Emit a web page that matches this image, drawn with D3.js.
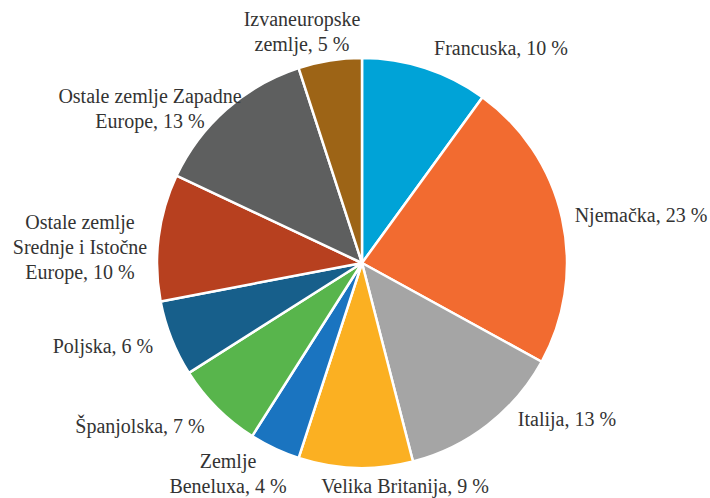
<!DOCTYPE html>
<html>
<head>
<meta charset="utf-8">
<script src="https://cdn.jsdelivr.net/npm/d3@7"></script>
<style>
  html, body { margin: 0; padding: 0; background: #fff; }
  svg { display: block; }
</style>
</head>
<body>
<div id="chart"></div>
<script>
// Categories and shares (%)
var countries = ["Francuska", "Njemačka", "Italija", "Velika Britanija", "Zemlje Beneluxa",
                 "Španjolska", "Poljska", "Ostale zemlje Srednje i Istočne Europe",
                 "Ostale zemlje Zapadne Europe", "Izvaneuropske zemlje"];
var shares = [10, 23, 13, 9, 4, 7, 6, 10, 13, 5];

// Label lines as printed on the chart
var labelLines = [
    ["Francuska, 10 %"],
    ["Njemačka, 23 %"],
    ["Italija, 13 %"],
    ["Velika Britanija, 9 %"],
    ["Zemlje", "Beneluxa, 4 %"],
    ["Španjolska, 7 %"],
    ["Poljska, 6 %"],
    ["Ostale zemlje", "Srednje i Istočne", "Europe, 10 %"],
    ["Ostale zemlje Zapadne", "Europe, 13 %"],
    ["Izvaneuropske", "zemlje, 5 %"]
];

var sliceColors = ["#00a3d7", "#f26b30", "#a5a5a5", "#fbb022", "#1a74c0",
                   "#58b54c", "#175f8b", "#b7401f", "#5e5f5f", "#9d6416"];

// Layout
var width = 710, height = 498;
var cx = 362, cy = 263, radius = 205;

// label anchors (x of text centre, y of first baseline), placed like Excel best-fit
var labelSpots = [[501, 55], [641, 222], [567, 426], [405, 493], [228, 468],
                  [140, 433], [103, 353], [80, 229], [150, 103], [302, 26]];
var lineHeight = 25;

var svg = d3.select("#chart").append("svg")
    .attr("width", width)
    .attr("height", height);

var pie = d3.pie().sort(null).value(d => d);
var arc = d3.arc().innerRadius(0).outerRadius(radius);

var g = svg.append("g").attr("transform", `translate(${cx}, ${cy})`);

g.selectAll("path")
    .data(pie(shares))
    .enter().append("path")
    .attr("d", arc)
    .attr("fill", (d, i) => sliceColors[i])
    .attr("stroke", "#ffffff")
    .attr("stroke-width", 2.5)
    .attr("stroke-linejoin", "round");

// Data labels
var labels = svg.selectAll("text.lbl")
    .data(labelLines)
    .enter().append("text")
    .attr("class", "lbl")
    .attr("text-anchor", "middle")
    .style("font-family", "'Liberation Serif', 'Times New Roman', Times, serif")
    .style("font-size", "20px")
    .attr("fill", "#333333");

labels.each(function (lines, i) {
    var t = d3.select(this);
    lines.forEach(function (line, j) {
        t.append("tspan")
            .attr("x", labelSpots[i][0])
            .attr("y", labelSpots[i][1] + j * lineHeight)
            .text(line);
    });
});
</script>
</body>
</html>
